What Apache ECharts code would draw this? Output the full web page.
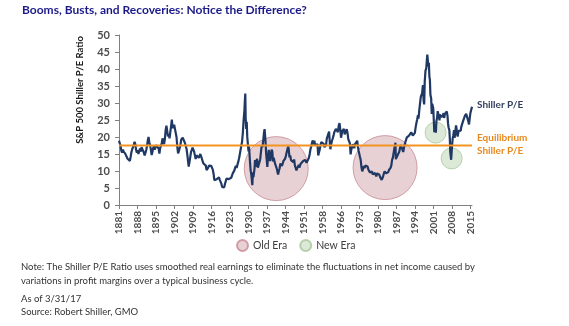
<!DOCTYPE html>
<html>
<head>
<meta charset="utf-8">
<script src="https://cdn.jsdelivr.net/npm/echarts@6/dist/echarts.min.js"></script>
<style>
  html, body { margin: 0; padding: 0; background: #fff; }
  #chart { width: 569px; height: 326px; }
</style>
</head>
<body>
<div id="chart"></div>
<script>
// Shiller P/E (CAPE) for the S&P 500, [decimal year, ratio]
const pe1881to1913 = [
  [1881.0,18.9],[1881.3,19.2],[1881.6,17.4],[1881.9,16.0],[1882.2,15.4],[1882.5,16.3],[1882.8,15.7],[1883.1,16.2],
  [1883.4,15.1],[1883.7,14.6],[1884.0,14.9],[1884.3,13.6],[1884.6,13.1],[1884.9,13.4],[1885.2,13.0],[1885.5,14.2],
  [1885.8,15.6],[1886.1,16.4],[1886.4,16.0],[1886.7,17.6],[1887.0,18.6],[1887.3,17.9],[1887.6,16.2],[1887.9,15.4],
  [1888.2,16.1],[1888.5,15.0],[1888.8,15.8],[1889.1,16.6],[1889.4,15.7],[1889.7,17.0],[1890.0,17.4],[1890.3,16.5],
  [1890.6,15.4],[1890.9,14.6],[1891.2,15.3],[1891.5,16.2],[1891.8,17.3],[1892.1,18.9],[1892.4,20.0],[1892.7,18.4],
  [1893.0,17.6],[1893.3,16.4],[1893.6,14.7],[1893.9,15.6],[1894.2,16.8],[1894.5,17.4],[1894.8,16.3],[1895.1,16.0],
  [1895.4,17.6],[1895.7,18.0],[1896.0,17.1],[1896.3,16.6],[1896.6,15.1],[1896.9,16.8],[1897.2,16.3],[1897.5,18.1],
  [1897.8,19.6],[1898.1,18.6],[1898.4,17.9],[1898.7,19.4],[1899.0,22.0],[1899.3,23.3],[1899.6,21.8],[1899.9,20.2],
  [1900.2,20.8],[1900.5,19.6],[1900.8,21.4],[1901.1,23.2],[1901.4,25.1],[1901.7,22.6],[1902.0,22.9],[1902.3,23.6],
  [1902.6,22.4],[1902.9,21.2],[1903.2,20.0],[1903.5,17.2],[1903.8,15.2],[1904.1,15.8],[1904.4,16.1],[1904.7,17.6],
  [1905.0,19.2],[1905.3,19.0],[1905.6,19.8],[1905.9,20.1],[1906.2,19.6],[1906.5,18.1],[1906.8,18.6],[1907.1,16.4],
  [1907.4,14.6],[1907.7,12.6],[1907.9,11.3],[1908.2,12.6],[1908.5,14.1],[1908.8,15.6],[1909.1,16.2],[1909.4,16.9],
  [1909.7,16.4],[1910.0,15.7],[1910.3,14.6],[1910.6,13.5],[1910.9,14.6],[1911.2,15.0],[1911.5,14.8],[1911.8,13.9],
  [1912.1,14.4],[1912.4,15.0],[1912.7,14.3],[1913.0,13.6],[1913.3,12.8],[1913.6,12.2],[1913.9,12.7]
];
const pe1914to1949 = [
  [1914.2,12.4],[1914.5,11.6],[1914.8,10.3],[1915.1,10.2],[1915.4,10.9],[1915.7,11.6],[1916.0,11.8],[1916.3,11.1],
  [1916.6,11.5],[1916.9,11.9],[1917.2,10.4],[1917.5,9.2],[1917.8,7.3],[1918.1,7.1],[1918.4,7.4],[1918.7,7.6],
  [1919.0,7.2],[1919.3,7.8],[1919.6,8.1],[1919.9,7.4],[1920.2,6.9],[1920.5,6.3],[1920.8,5.3],[1921.0,5.0],
  [1921.3,5.4],[1921.6,5.2],[1921.9,6.2],[1922.2,7.0],[1922.5,7.8],[1922.8,8.2],[1923.1,8.0],[1923.4,7.6],
  [1923.7,7.5],[1924.0,7.9],[1924.3,8.0],[1924.6,8.6],[1924.9,9.3],[1925.2,9.8],[1925.5,10.1],[1925.8,10.9],
  [1926.1,11.5],[1926.4,10.9],[1926.7,11.8],[1927.0,12.6],[1927.3,13.6],[1927.6,14.8],[1927.9,16.1],[1928.2,17.4],
  [1928.5,18.6],[1928.8,21.2],[1929.1,25.0],[1929.4,27.8],[1929.6,31.0],[1929.75,32.8],[1929.9,25.3],[1930.1,22.4],
  [1930.3,24.5],[1930.5,20.1],[1930.8,17.4],[1931.0,15.8],[1931.2,17.2],[1931.5,13.4],[1931.8,10.2],[1932.0,9.3],
  [1932.2,8.0],[1932.45,5.8],[1932.7,9.6],[1932.9,8.2],[1933.1,7.8],[1933.3,10.6],[1933.5,13.2],[1933.8,11.2],
  [1934.0,12.9],[1934.3,13.6],[1934.6,11.0],[1934.9,11.4],[1935.2,10.8],[1935.5,13.4],[1935.8,15.6],[1936.1,17.6],
  [1936.4,17.0],[1936.7,19.2],[1937.0,21.5],[1937.2,22.3],[1937.5,19.4],[1937.8,15.1],[1938.0,13.4],[1938.25,11.2],
  [1938.5,13.8],[1938.8,16.2],[1939.0,15.0],[1939.3,12.9],[1939.6,14.2],[1939.9,16.3],[1940.2,15.7],[1940.4,12.8],
  [1940.7,13.9],[1941.0,13.6],[1941.3,12.0],[1941.6,12.5],[1941.9,10.7],[1942.2,9.6],[1942.4,9.0],[1942.7,10.0],
  [1943.0,10.8],[1943.3,12.2],[1943.6,12.6],[1943.9,11.5],[1944.2,12.2],[1944.5,13.0],[1944.8,12.6],[1945.1,13.6],
  [1945.4,14.4],[1945.7,14.9],[1946.0,16.4],[1946.3,17.2],[1946.5,16.5],[1946.8,14.0],[1947.1,14.6],[1947.4,13.2],
  [1947.7,13.6],[1948.0,12.8],[1948.3,12.6],[1948.6,13.4],[1948.9,11.6],[1949.2,11.2],[1949.5,10.2],[1949.8,10.9]
];
const pe1950to1985 = [
  [1950.1,11.1],[1950.4,11.8],[1950.7,11.0],[1951.0,12.0],[1951.3,12.5],[1951.6,12.1],[1951.9,12.8],[1952.2,12.4],
  [1952.5,12.9],[1952.8,13.3],[1953.1,13.2],[1953.4,12.4],[1953.7,11.9],[1954.0,12.6],[1954.3,13.9],[1954.6,15.0],
  [1954.9,16.4],[1955.2,17.2],[1955.5,18.3],[1955.8,19.0],[1956.1,17.8],[1956.4,18.9],[1956.7,17.6],[1957.0,17.1],
  [1957.3,17.6],[1957.6,17.9],[1957.9,14.6],[1958.2,15.1],[1958.5,16.4],[1958.8,17.8],[1959.1,18.5],[1959.4,18.8],
  [1959.7,18.2],[1960.0,18.0],[1960.3,17.0],[1960.6,17.3],[1960.9,17.6],[1961.2,19.5],[1961.5,19.9],[1961.8,20.9],
  [1962.1,21.6],[1962.4,18.0],[1962.6,16.4],[1962.9,17.9],[1963.2,18.9],[1963.5,19.6],[1963.8,20.4],[1964.1,21.4],
  [1964.4,21.8],[1964.7,22.4],[1965.0,22.9],[1965.3,22.6],[1965.5,21.4],[1965.8,23.3],[1966.1,24.1],[1966.4,22.3],
  [1966.7,19.8],[1966.9,20.6],[1967.2,21.8],[1967.5,21.9],[1967.8,22.4],[1968.1,20.8],[1968.3,20.6],[1968.6,21.7],
  [1968.9,22.3],[1969.2,21.2],[1969.5,19.4],[1969.8,19.8],[1970.1,18.2],[1970.4,14.9],[1970.6,16.0],[1970.9,16.9],
  [1971.2,17.9],[1971.5,17.8],[1971.8,16.7],[1972.1,17.9],[1972.4,18.2],[1972.7,18.2],[1972.95,18.9],[1973.2,17.2],
  [1973.5,15.9],[1973.8,16.4],[1974.0,14.2],[1974.3,13.2],[1974.6,11.0],[1974.9,9.9],[1975.2,10.6],[1975.5,11.5],
  [1975.8,10.8],[1976.1,11.6],[1976.4,11.4],[1976.7,11.2],[1976.95,11.3],[1977.2,10.5],[1977.5,10.1],[1977.8,9.6],
  [1978.1,9.1],[1978.4,9.5],[1978.7,9.8],[1978.95,9.0],[1979.2,9.3],[1979.5,9.1],[1979.8,9.4],[1980.1,8.9],
  [1980.3,8.4],[1980.6,9.3],[1980.9,9.8],[1981.2,9.4],[1981.5,8.9],[1981.8,8.2],[1982.1,7.9],[1982.4,7.4],
  [1982.6,6.9],[1982.9,8.3],[1983.2,9.2],[1983.5,9.9],[1983.8,9.5],[1984.1,9.3],[1984.4,8.8],[1984.7,9.4],
  [1984.95,9.7],[1985.2,10.3],[1985.5,10.6],[1985.8,10.9]
];
const pe1986to2017 = [
  [1986.1,11.6],[1986.4,13.3],[1986.7,13.9],[1986.95,14.2],[1987.2,16.3],[1987.5,17.4],[1987.7,18.3],[1987.85,13.5],
  [1988.1,13.4],[1988.4,14.4],[1988.7,14.5],[1988.95,14.9],[1989.2,15.7],[1989.5,16.9],[1989.8,17.6],[1990.1,17.1],
  [1990.4,17.4],[1990.7,15.6],[1990.9,15.2],[1991.2,17.6],[1991.5,18.4],[1991.8,18.9],[1992.1,19.9],[1992.4,20.2],
  [1992.7,19.6],[1992.95,20.4],[1993.2,20.9],[1993.5,20.6],[1993.8,21.4],[1994.1,21.7],[1994.4,20.4],[1994.7,20.6],
  [1994.95,19.9],[1995.2,21.2],[1995.5,22.9],[1995.8,24.1],[1996.1,25.2],[1996.4,26.4],[1996.6,25.4],[1996.9,27.9],
  [1997.2,28.4],[1997.5,31.9],[1997.8,32.4],[1998.0,32.9],[1998.3,35.3],[1998.6,30.5],[1998.8,29.6],[1999.0,36.2],
  [1999.3,39.5],[1999.6,40.2],[1999.85,42.9],[2000.0,44.2],[2000.2,42.6],[2000.4,40.8],[2000.6,41.8],[2000.8,37.8],
  [2001.0,36.8],[2001.2,32.4],[2001.5,31.3],[2001.7,26.8],[2001.9,29.8],[2002.1,30.2],[2002.3,28.4],[2002.5,25.0],
  [2002.7,21.4],[2002.9,22.9],[2003.1,22.6],[2003.3,21.3],[2003.5,24.6],[2003.8,25.8],[2004.0,27.6],[2004.2,27.0],
  [2004.5,25.9],[2004.7,24.9],[2004.9,26.6],[2005.2,26.3],[2005.5,25.8],[2005.8,26.2],[2006.0,26.4],[2006.3,27.0],
  [2006.5,25.6],[2006.8,26.8],[2007.0,27.3],[2007.3,26.7],[2007.5,27.5],[2007.8,26.2],[2008.0,24.0],[2008.2,22.8],
  [2008.5,22.1],[2008.7,19.3],[2008.85,15.6],[2009.0,15.2],[2009.2,13.3],[2009.4,15.6],[2009.6,17.9],[2009.8,19.6],
  [2010.0,20.3],[2010.3,22.0],[2010.5,19.8],[2010.7,20.5],[2010.9,22.2],[2011.1,23.4],[2011.4,23.0],[2011.7,20.1],
  [2011.9,20.5],[2012.1,21.8],[2012.4,21.3],[2012.6,21.6],[2012.9,21.9],[2013.1,22.9],[2013.4,23.7],[2013.7,24.0],
  [2013.9,24.9],[2014.2,25.3],[2014.5,26.2],[2014.8,26.0],[2015.0,26.8],[2015.3,27.2],[2015.6,26.3],[2015.8,24.7],
  [2016.0,25.0],[2016.1,23.7],[2016.4,25.7],[2016.6,26.9],[2016.9,27.2],[2017.05,28.3],[2017.25,28.9]
];

// Long-run equilibrium level of the Shiller P/E
const equilibriumPE = 17.5;

// Highlighted periods: [year, P/E] at the centre of each circle
const oldEra = [[1941.7, 10.7], [1983.7, 11.0]];
const newEra = [[2003.2, 21.3], [2009.4, 13.7]];

// Horizontal axis labels
const xTickLabels = ['1881','1888','1895','1902','1909','1916','1923','1930','1937','1944',
                     '1951','1958','1966','1973','1980','1987','1994','2001','2008','2015'];

const firstYear = 1881, lastYear = 2017.25, tickStep = 7.145;
const tickPositions = xTickLabels.map((_, k) => firstYear + k * tickStep);

const shillerPE = [].concat(pe1881to1913, pe1914to1949, pe1950to1985, pe1986to2017);

const FONT = 'Lato';
const chart = echarts.init(document.getElementById('chart'), null, { renderer: 'canvas' });

chart.setOption({
  animation: false,
  backgroundColor: '#ffffff',
  textStyle: { fontFamily: FONT },
  grid: { left: 119, right: 97, top: 35, bottom: 121, containLabel: false },
  legend: {
    left: 231, top: 234,
    icon: 'circle', itemWidth: 11, itemHeight: 11, itemGap: 12,
    data: ['Old Era', 'New Era'],
    textStyle: { fontFamily: FONT, fontSize: 10.5, color: '#404040' }
  },
  xAxis: {
    type: 'value', min: firstYear, max: lastYear,
    splitLine: { show: false },
    axisLine: { lineStyle: { color: '#808080', width: 1 } },
    axisTick: { show: true, length: 4, lineStyle: { color: '#808080' }, customValues: tickPositions },
    axisLabel: {
      customValues: tickPositions,
      rotate: 90, margin: 6,
      fontFamily: FONT, fontSize: 10, fontWeight: 'bold', color: '#4d4d4d',
      formatter: v => xTickLabels[Math.round((v - firstYear) / tickStep)]
    }
  },
  yAxis: {
    type: 'value', min: 0, max: 50, interval: 5,
    splitLine: { show: false },
    axisLine: { show: true, lineStyle: { color: '#808080', width: 1 } },
    axisTick: { show: true, length: 4, lineStyle: { color: '#808080' } },
    axisLabel: { margin: 9, fontFamily: FONT, fontSize: 11, fontWeight: 'bold', color: '#4d4d4d' }
  },
  series: [
    {
      name: 'Old Era', type: 'scatter', data: oldEra, symbolSize: 64, z: 1,
      itemStyle: { color: 'rgba(185,120,130,0.42)', borderColor: '#c98a93', borderWidth: 1 }
    },
    {
      name: 'New Era', type: 'scatter', data: newEra, symbolSize: 21, z: 1,
      itemStyle: { color: 'rgba(150,190,135,0.42)', borderColor: '#a8c79b', borderWidth: 1 }
    },
    {
      name: 'Shiller P/E', type: 'line', data: shillerPE, showSymbol: false, z: 3,
      lineStyle: { color: '#1f3864', width: 2.2 }
    },
    {
      name: 'Equilibrium', type: 'line', z: 4, showSymbol: false,
      data: [[firstYear, equilibriumPE], [lastYear, equilibriumPE]],
      lineStyle: { color: '#f39322', width: 2 }
    }
  ],
  graphic: [
    { type: 'text', left: 22, top: 4,
      style: { text: 'Booms, Busts, and Recoveries: Notice the Difference?', font: 'bold 12px ' + FONT, fill: '#1c1a8a' } },
    { type: 'text', x: 80, y: 90, rotation: Math.PI / 2, originX: 0, originY: 0,
      style: { text: 'S&P 500 Shiller P/E Ratio', font: 'bold 9.5px ' + FONT, fill: '#1a1a1a', align: 'center', verticalAlign: 'middle' } },
    { type: 'text', left: 477, top: 100,
      style: { text: 'Shiller P/E', font: 'bold 10px ' + FONT, fill: '#33405f' } },
    { type: 'text', left: 477, top: 133,
      style: { text: 'Equilibrium', font: 'bold 10px ' + FONT, fill: '#e8891e' } },
    { type: 'text', left: 477, top: 146,
      style: { text: 'Shiller P/E', font: 'bold 10px ' + FONT, fill: '#e8891e' } },
    { type: 'text', left: 21, top: 262,
      style: { text: 'Note: The Shiller P/E Ratio uses smoothed real earnings to eliminate the fluctuations in net income caused by', font: '9.5px ' + FONT, fill: '#333333' } },
    { type: 'text', left: 21, top: 276,
      style: { text: 'variations in profit margins over a typical business cycle.', font: '9.5px ' + FONT, fill: '#333333' } },
    { type: 'text', left: 21, top: 294,
      style: { text: 'As of 3/31/17', font: '9.5px ' + FONT, fill: '#333333' } },
    { type: 'text', left: 21, top: 307,
      style: { text: 'Source: Robert Shiller, GMO', font: '9.5px ' + FONT, fill: '#333333' } }
  ]
});
</script>
</body>
</html>
